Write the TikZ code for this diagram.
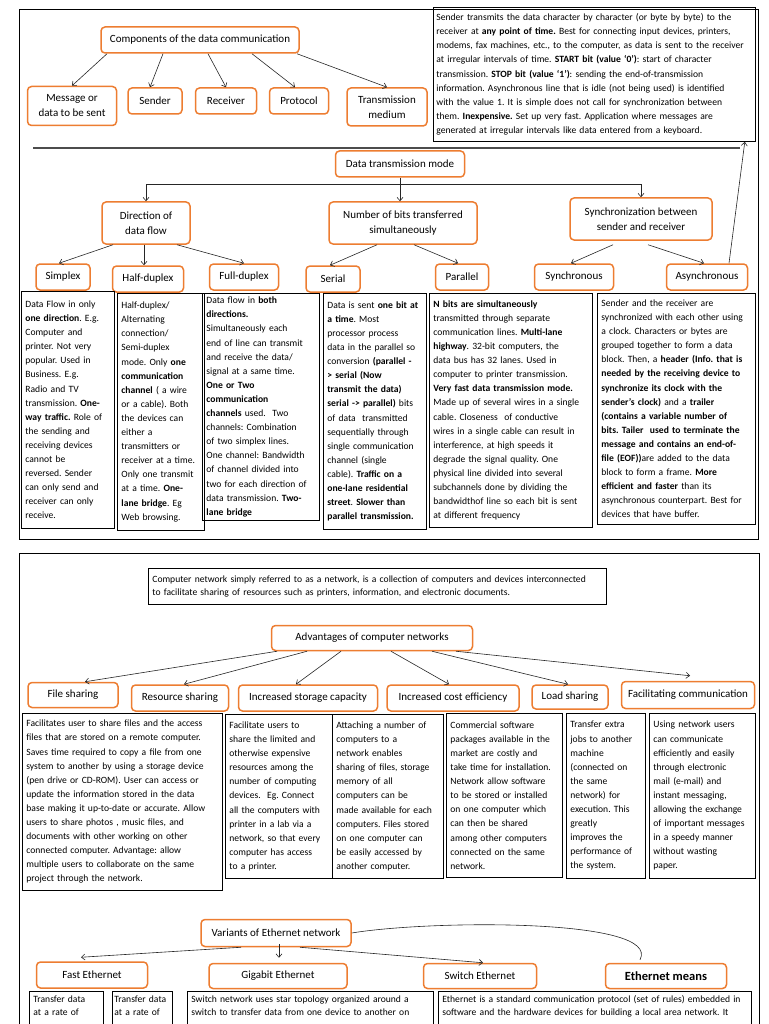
\documentclass[tikz,border=0pt]{standalone}
\usepackage{fontspec}
\setmainfont{Carlito}
\usetikzlibrary{arrows.meta,positioning,calc}
\definecolor{topicorange}{HTML}{ED7D31}
\tikzset{edge/.style = {
    >={Straight Barb[length=3.5pt,width=6pt]},
    ->, line width=0.6pt, black!85
  }
}
\frenchspacing
\hyphenpenalty=10000
\exhyphenpenalty=10000

\begin{document}
\begin{tikzpicture}[x=1pt, y=-1pt]
  % vertices
  \tikzstyle{topic} = [rectangle, draw=topicorange, line width=1.5pt, rounded corners=4pt, fill=white, inner sep=0pt, align=center, font=\fontsize{11}{15}\selectfont]
  \tikzstyle{note} = [rectangle, draw, line width=0.8pt, anchor=north west, inner xsep=4pt, inner ysep=1pt, align=left, font=\fontsize{9.6}{14.1}\selectfont]
  \tikzstyle{panel} = [draw, line width=0.8pt]

  \useasboundingbox (0,0) rectangle (768,1024);

  \draw[panel] (19,9) rectangle (758,539);
  \draw[panel] (19,553) rectangle (759,1040);

  % components
  \node[topic, minimum width=198pt, minimum height=26pt] (comp) at (200,40) {Components of the data communication};
  \node[topic, minimum width=89pt, minimum height=39pt] (msg) at (72,106) {Message or\\data to be sent};
  \node[topic, minimum width=54pt, minimum height=26pt] (sender) at (155,101) {Sender};
  \node[topic, minimum width=61pt, minimum height=26pt] (receiver) at (226,101) {Receiver};
  \node[topic, minimum width=59pt, minimum height=26pt] (protocol) at (299,101) {Protocol};
  \node[topic, minimum width=80pt, minimum height=38pt] (medium) at (387,107) {Transmission\\medium};

  \draw[edge] ($(comp.south)+(-93,0)$) -- (msg.north);
  \draw[edge] ($(comp.south)+(-37,0)$) -- ($(sender.north)+(-5,0)$);
  \draw[edge] ($(comp.south)+(8,0)$) -- (receiver.north);
  \draw[edge] ($(comp.south)+(52,0)$) -- ($(protocol.north)+(-4,0)$);
  \draw[edge] ($(comp.south)+(97,0)$) -- (medium.north);

  \node[note, text width=316pt, minimum height=134pt, inner xsep=3pt] (asyncinfo) at (433,7) {Sender transmits the data character by character (or byte by byte) to the\\
    receiver at \textbf{any point of time.} Best for connecting input devices, printers,\\
    modems, fax machines, etc., to the computer, as data is sent to the receiver\\
    at irregular intervals of time. \textbf{START bit (value ‘0’)}: start of character\\
    transmission. \textbf{STOP bit (value ‘1’)}: sending the end-of-transmission\\
    information. Asynchronous line that is idle (not being used) is identified\\
    with the value 1. It is simple does not call for synchronization between\\
    them. \textbf{Inexpensive.} Set up very fast. Application where messages are\\
    generated at irregular intervals like data entered from a keyboard.};

  \draw[line width=1.3pt, black!70] (33,148) -- (740,148);

  % transmission mode
  \node[topic, minimum width=129pt, minimum height=26pt] (mode) at (400,164) {Data transmission mode};
  \node[topic, minimum width=88pt, minimum height=42pt] (dir) at (146,223) {Direction of\\data flow};
  \node[topic, minimum width=148pt, minimum height=42pt] (bits) at (403,223) {Number of bits transferred\\simultaneously};
  \node[topic, minimum width=142pt, minimum height=42pt] (sync) at (641,219) {Synchronization between\\sender and receiver};

  \node[topic, minimum width=54pt, minimum height=26pt] (simplex) at (63,277) {Simplex};
  \node[topic, minimum width=71pt, minimum height=26pt] (half) at (148,279) {Half-duplex};
  \node[topic, minimum width=69pt, minimum height=26pt] (full) at (244,277) {Full-duplex};
  \node[topic, minimum width=54pt, minimum height=26pt] (serial) at (333,279) {Serial};
  \node[topic, minimum width=53pt, minimum height=26pt] (parallel) at (462,277) {Parallel};
  \node[topic, minimum width=79pt, minimum height=26pt] (synch) at (574,277) {Synchronous};
  \node[topic, minimum width=81pt, minimum height=26pt] (async) at (707,277) {Asynchronous};

  \draw[edge] (mode.south) -- (mode.south |- bits.north);
  \draw[edge] ($(mode.south)+(0,7)$) -| (dir.north);
  \draw[edge] ($(mode.south)+(0,7)$) -| (sync.north);

  \draw[edge] ($(dir.south)+(-33,0)$) -- ($(simplex.north)+(-4,0)$);
  \draw[edge] ($(dir.south)+(-2,0)$) -- ($(half.north)+(-4,0)$);
  \draw[edge] ($(dir.south)+(31,0)$) -- (full.north);
  \draw[edge] ($(bits.south)+(-26,0)$) -- ($(serial.north)+(-3,0)$);
  \draw[edge] ($(bits.south)+(11,0)$) -- ($(parallel.north)+(-4,0)$);
  \draw[edge] ($(sync.south)+(-28,4)$) -- ($(synch.north)+(-3,0)$);
  \draw[edge] ($(sync.south)+(7,4)$) -- ($(async.north)+(-3,0)$);
  \draw[edge] ($(async.north)+(22,0)$) -- ($(asyncinfo.south east)+(-11,0)$);

  \node[note, text width=85pt, minimum height=237pt] (simplexinfo) at (21,291) {Data Flow in only\\
    \textbf{one direction}. E.g.\\ Computer and\\ printer. Not very\\ popular. Used in\\ Business. E.g.\\
    Radio and TV\\ transmission. \textbf{One-}\\ \textbf{way traffic.} Role of\\ the sending and\\
    receiving devices\\ cannot be\\ reversed. Sender\\ can only send and\\ receiver can only\\ receive.};
  \node[note, text width=79pt, minimum height=237pt] (halfinfo) at (117,293) {Half-duplex/\\ Alternating\\
    connection/\\ Semi-duplex\\ mode. Only \textbf{one}\\ \textbf{communication}\\ \textbf{channel} ( a wire\\
    or a cable). Both\\ the devices can\\ either a\\ transmitters or\\ receiver at a time.\\
    Only one transmit\\ at a time. \textbf{One-}\\ \textbf{lane bridge}. Eg\\ Web browsing.};
  \node[note, text width=109pt, minimum height=227pt] (fullinfo) at (202,293) {Data flow in \textbf{both}\\
    \textbf{directions.}\\ Simultaneously each\\ end of line can transmit\\ and receive the data/\\
    signal at a same time.\\ \textbf{One or Two}\\ \textbf{communication}\\ \textbf{channels} used.\ \ Two\\
    channels: Combination\\ of two simplex lines.\\ One channel: Bandwidth\\ of channel divided into\\
    two for each direction of\\ data transmission. \textbf{Two-}\\ \textbf{lane bridge}};
  \node[note, text width=95pt, minimum height=236pt] (serialinfo) at (323,293) {Data is sent \textbf{one bit at}\\
    \textbf{a time}. Most\\ processor process\\ data in the parallel so\\ conversion \textbf{(parallel -}\\
    \textbf{> serial (Now}\\ \textbf{transmit the data)}\\ \textbf{serial -> parallel)} bits\\
    of data\ \ transmitted\\ sequentially through\\ single communication\\ channel (single\\
    cable). \textbf{Traffic on a}\\ \textbf{one-lane residential}\\ \textbf{street}. \textbf{Slower than}\\
    \textbf{parallel transmission.}};
  \node[note, text width=155pt, minimum height=234pt] (parallelinfo) at (429,293) {\textbf{N bits are simultaneously}\\
    transmitted through separate\\ communication lines. \textbf{Multi-lane}\\ \textbf{highway}. 32-bit computers, the\\
    data bus has 32 lanes. Used in\\ computer to printer transmission.\\
    \textbf{Very fast data transmission mode.}\\ Made up of several wires in a single\\
    cable. Closeness\ \ of conductive\\ wires in a single cable can result in\\
    interference, at high speeds it\\ degrade the signal quality. One\\ physical line divided into several\\
    subchannels done by dividing the\\ bandwidthof line so each bit is sent\\ at different frequency};
  \node[note, text width=150pt, minimum height=231pt] (synchinfo) at (597,293) {Sender and the receiver are\\
    synchronized with each other using\\ a clock. Characters or bytes are\\ grouped together to form a data\\
    block. Then, a \textbf{header (Info. that is}\\ \textbf{needed by the receiving device to}\\
    \textbf{synchronize its clock with the}\\ \textbf{sender's clock)} and a \textbf{trailer}\\
    \textbf{(contains a variable number of}\\ \textbf{bits. Tailer\ \ used to terminate the}\\
    \textbf{message and contains an end-of-}\\ \textbf{file (EOF))}are added to the data\\
    block to form a frame. \textbf{More}\\ \textbf{efficient and faster} than its\\
    asynchronous counterpart. Best for\\ devices that have buffer.};

  % computer networks
  \node[note, text width=450pt, minimum height=36pt, font=\fontsize{9.6}{12.7}\selectfont] (netdef) at (148,568) {Computer network simply referred to as a network, is a collection of computers and devices interconnected\\
    to facilitate sharing of resources such as printers, information, and electronic documents.};

  \node[topic, minimum width=201pt, minimum height=25pt] (adv) at (372,638) {Advantages of computer networks};
  \node[topic, minimum width=90pt, minimum height=25pt] (file) at (73,695) {File sharing};
  \node[topic, minimum width=97pt, minimum height=26pt] (resource) at (180,698) {Resource sharing};
  \node[topic, minimum width=139pt, minimum height=26pt] (storage) at (308,698) {Increased storage capacity};
  \node[topic, minimum width=132pt, minimum height=26pt] (cost) at (453,698) {Increased cost efficiency};
  \node[topic, minimum width=76pt, minimum height=24pt] (load) at (570,697) {Load sharing};
  \node[topic, minimum width=133pt, minimum height=27pt] (comm) at (688,695) {Facilitating communication};

  \draw[edge] ($(adv.south)+(-95,0)$) -- ($(file.north)+(12,0)$);
  \draw[edge] ($(adv.south)+(-65,0)$) -- ($(resource.north)+(4,0)$);
  \draw[edge] ($(adv.south)+(-31,0)$) -- ($(storage.north)+(-12,0)$);
  \draw[edge] ($(adv.south)+(19,0)$) -- ($(cost.north)+(-4,0)$);
  \draw[edge] ($(adv.south)+(60,0)$) -- ($(load.north)+(-2,0)$);
  \draw[edge] ($(adv.south)+(84,0)$) -- ($(comm.north)+(2,-5)$);

  \node[note, text width=192pt, minimum height=177pt] (fileinfo) at (22,713) {Facilitates user to share files and the access\\
    files that are stored on a remote computer.\\ Saves time required to copy a file from one\\
    system to another by using a storage device\\ (pen drive or CD-ROM). User can access or\\
    update the information stored in the data\\ base making it up-to-date or accurate. Allow\\
    users to share photos , music files, and\\ documents with other working on other\\
    connected computer. Advantage: allow\\ multiple users to collaborate on the same\\
    project through the network.};
  \node[note, text width=99pt, minimum height=164pt] (resourceinfo) at (225,714) {Facilitate users to\\
    share the limited and\\ otherwise expensive\\ resources among the\\ number of computing\\
    devices.\ \ Eg. Connect\\ all the computers with\\ printer in a lab via a\\ network, so that every\\
    computer has access\\ to a printer.};
  \node[note, text width=103pt, minimum height=164pt] (storageinfo) at (332,714) {Attaching a number of\\
    computers to a\\ network enables\\ sharing of files, storage\\ memory of all\\ computers can be\\
    made available for each\\ computers. Files stored\\ on one computer can\\ be easily accessed by\\
    another computer.};
  \node[note, text width=108pt, minimum height=164pt] (costinfo) at (446,713) {Commercial software\\
    packages available in the\\ market are costly and\\ take time for installation.\\
    Network allow software\\ to be stored or installed\\ on one computer which\\ can then be shared\\
    among other computers\\ connected on the same\\ network.};
  \node[note, text width=71pt, minimum height=165pt] (loadinfo) at (566,713) {Transfer extra\\
    jobs to another\\ machine\\ (connected on\\ the same\\ network) for\\ execution. This\\ greatly\\
    improves the\\ performance of\\ the system.};
  \node[note, text width=98pt, minimum height=165pt] (comminfo) at (649,713) {Using network users\\
    can communicate\\ efficiently and easily\\ through electronic\\ mail (e-mail) and\\
    instant messaging,\\ allowing the exchange\\ of important messages\\ in a speedy manner\\
    without wasting\\ paper.};

  % ethernet
  \node[topic, minimum width=150pt, minimum height=27pt] (variants) at (276,933) {Variants of Ethernet network};
  \node[topic, minimum width=111pt, minimum height=26pt] (fast) at (92,975) {Fast Ethernet};
  \node[topic, minimum width=138pt, minimum height=25pt] (gigabit) at (278,976) {Gigabit Ethernet};
  \node[topic, minimum width=113pt, minimum height=25pt] (switch) at (480,976) {Switch Ethernet};
  \node[topic, minimum width=121pt, minimum height=25pt, font=\fontsize{12.5}{15}\selectfont\bfseries] (means) at (666,976) {Ethernet means};

  \draw[edge] ($(variants.south)+(-35,0)$) -- ($(fast.north)+(-11,-4)$);
  \draw[edge] ($(variants.south)+(3,-3)$) -- ($(gigabit.north)+(1,-5)$);
  \draw[edge] ($(variants.south)+(24,0)$) -- ($(switch.north)+(3,0)$);
  \draw[line width=0.6pt, black!85] (variants.east) .. controls (430,920) and (662,918) .. ($(means.north)+(-26,-3)$);

  \node[note, text width=66pt, text depth=50pt, inner ysep=4pt, font=\fontsize{9.6}{13.3}\selectfont] (fastinfo) at (29,991) {Transfer data\\ at a rate of};
  \node[note, text width=56pt, text depth=50pt, inner ysep=4pt, inner xsep=2pt, font=\fontsize{9.6}{13.3}\selectfont] (gigainfo) at (112,991) {Transfer data\\ at a rate of};
  \node[note, text width=238pt, text depth=50pt, inner ysep=4pt, font=\fontsize{9.6}{13.3}\selectfont] (switchinfo) at (187,991) {Switch network uses star topology organized around a\\
    switch to transfer data from one device to another on};
  \node[note, text width=305pt, text depth=50pt, inner ysep=4pt, font=\fontsize{9.6}{13.3}\selectfont] (meansinfo) at (438,991) {Ethernet is a standard communication protocol (set of rules) embedded in\\
    software and the hardware devices for building a local area network. It};
\end{tikzpicture}
\end{document}
